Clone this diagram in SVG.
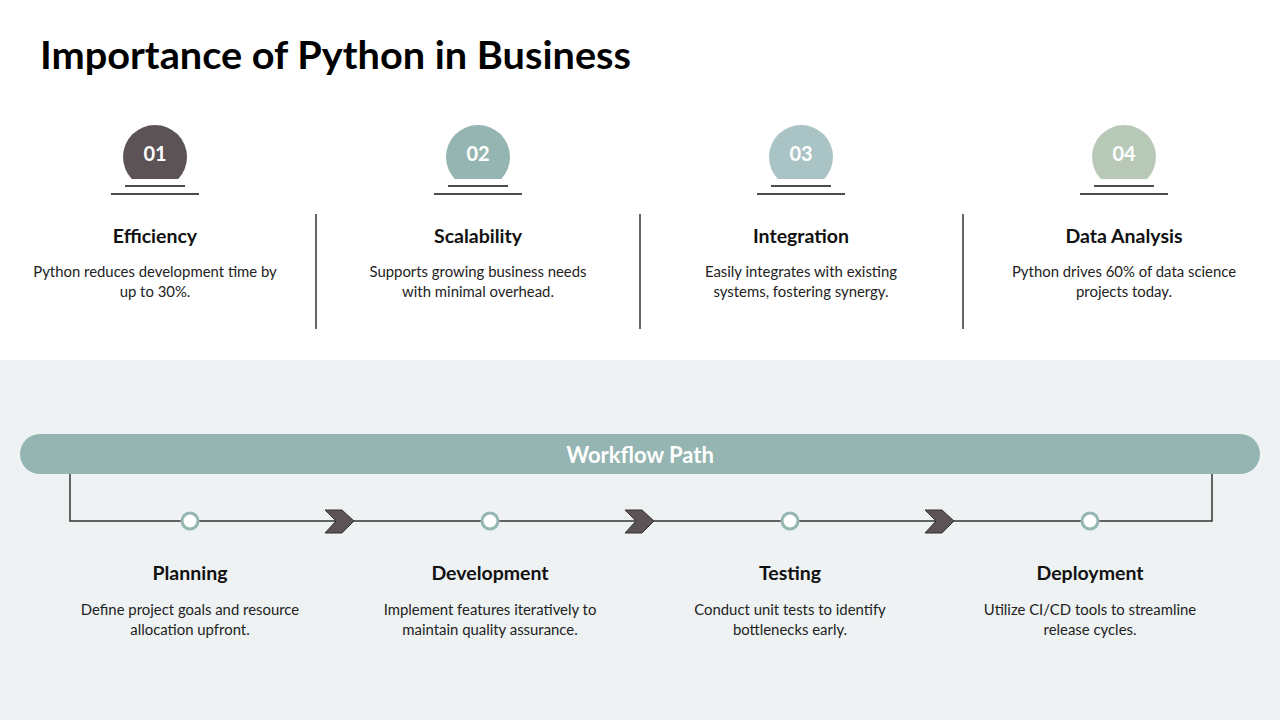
<svg xmlns="http://www.w3.org/2000/svg" width="1280" height="720" viewBox="0 0 1280 720">
<style>
text{font-family:Lato,"Open Sans","Liberation Sans",sans-serif}
.title{font-size:39px;font-weight:700;fill:#000}
.num{font-size:20px;font-weight:700;fill:#fff;text-anchor:middle}
.h{font-size:19.5px;font-weight:700;fill:#111;text-anchor:middle}
.d{font-size:14.9px;fill:#222;text-anchor:middle}
.ln{stroke:#111;stroke-width:1.5}
.sep{stroke:#333;stroke-width:1.5}
.conn{stroke:#333;stroke-width:1.5;fill:none}
.dot{fill:#fff;stroke:#94b5b1;stroke-width:3}
.chev{fill:#5b5356;stroke:#333;stroke-width:1}
</style>
<defs>
<clipPath id="cut"><rect x="0" y="0" width="1280" height="179"/></clipPath>
</defs>
<rect x="0" y="0" width="1280" height="360" fill="#fff"/>
<rect x="0" y="360" width="1280" height="360" fill="#eef2f3"/>
<text class="title" x="40" y="69" textLength="591" lengthAdjust="spacingAndGlyphs">Importance of Python in Business</text>

<g id="card1">
<circle cx="155" cy="157" r="32" fill="#5b5356" clip-path="url(#cut)"/>
<text class="num" x="155" y="161">01</text>
<line class="ln" x1="125" y1="186" x2="185" y2="186"/>
<line class="ln" x1="111" y1="194" x2="199" y2="194"/>
<text class="h" x="155" y="243">Efficiency</text>
<text class="d" x="155" y="277">Python reduces development time by</text>
<text class="d" x="155" y="297">up to 30%.</text>
</g>
<g id="card2">
<circle cx="478" cy="157" r="32" fill="#94b5b1" clip-path="url(#cut)"/>
<text class="num" x="478" y="161">02</text>
<line class="ln" x1="448" y1="186" x2="508" y2="186"/>
<line class="ln" x1="434" y1="194" x2="522" y2="194"/>
<text class="h" x="478" y="243">Scalability</text>
<text class="d" x="478" y="277">Supports growing business needs</text>
<text class="d" x="478" y="297">with minimal overhead.</text>
</g>
<g id="card3">
<circle cx="801" cy="157" r="32" fill="#aac3c5" clip-path="url(#cut)"/>
<text class="num" x="801" y="161">03</text>
<line class="ln" x1="771" y1="186" x2="831" y2="186"/>
<line class="ln" x1="757" y1="194" x2="845" y2="194"/>
<text class="h" x="801" y="243">Integration</text>
<text class="d" x="801" y="277">Easily integrates with existing</text>
<text class="d" x="801" y="297">systems, fostering synergy.</text>
</g>
<g id="card4">
<circle cx="1124" cy="157" r="32" fill="#b9c9b8" clip-path="url(#cut)"/>
<text class="num" x="1124" y="161">04</text>
<line class="ln" x1="1094" y1="186" x2="1154" y2="186"/>
<line class="ln" x1="1080" y1="194" x2="1168" y2="194"/>
<text class="h" x="1124" y="243">Data Analysis</text>
<text class="d" x="1124" y="277">Python drives 60% of data science</text>
<text class="d" x="1124" y="297">projects today.</text>
</g>
<g id="separators">
<line class="sep" x1="316" y1="214" x2="316" y2="329"/>
<line class="sep" x1="640" y1="214" x2="640" y2="329"/>
<line class="sep" x1="963" y1="214" x2="963" y2="329"/>
</g>

<g id="workflow-header">
<rect x="20" y="434" width="1240" height="40" rx="20" fill="#94b5b1"/>
<text x="640" y="463" font-size="22" font-weight="700" fill="#fff" text-anchor="middle">Workflow Path</text>
</g>

<g id="connectors">
<polyline class="conn" points="70,474 70,521 1212,521 1212,474"/>
<polygon class="chev" points="325,510 342,510 354,521 342,533 325,533 336,521"/>
<polygon class="chev" points="625,510 642,510 654,521 642,533 625,533 636,521"/>
<polygon class="chev" points="925,510 942,510 954,521 942,533 925,533 936,521"/>
</g>

<g id="step1">
<circle class="dot" cx="190" cy="521" r="8"/>
<text class="h" x="190" y="580">Planning</text>
<text class="d" x="190" y="615">Define project goals and resource</text>
<text class="d" x="190" y="635">allocation upfront.</text>
</g>
<g id="step2">
<circle class="dot" cx="490" cy="521" r="8"/>
<text class="h" x="490" y="580">Development</text>
<text class="d" x="490" y="615">Implement features iteratively to</text>
<text class="d" x="490" y="635">maintain quality assurance.</text>
</g>
<g id="step3">
<circle class="dot" cx="790" cy="521" r="8"/>
<text class="h" x="790" y="580">Testing</text>
<text class="d" x="790" y="615">Conduct unit tests to identify</text>
<text class="d" x="790" y="635">bottlenecks early.</text>
</g>
<g id="step4">
<circle class="dot" cx="1090" cy="521" r="8"/>
<text class="h" x="1090" y="580">Deployment</text>
<text class="d" x="1090" y="615">Utilize CI/CD tools to streamline</text>
<text class="d" x="1090" y="635">release cycles.</text>
</g>
</svg>
